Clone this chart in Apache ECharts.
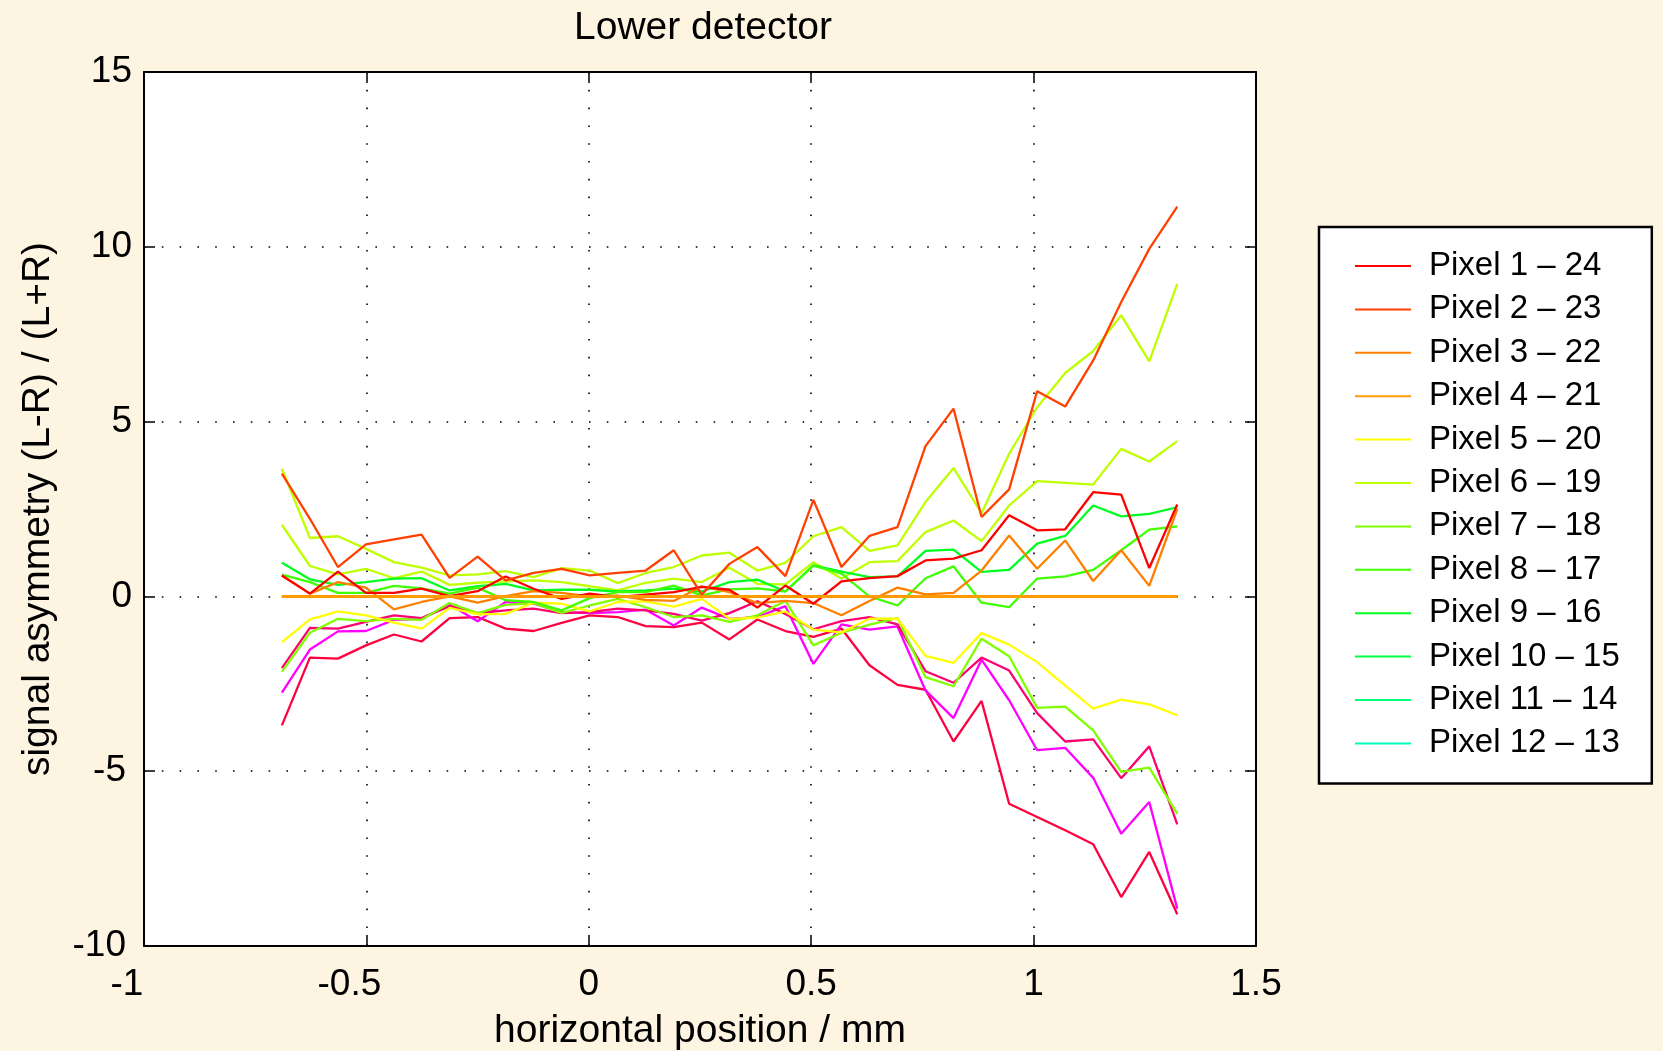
<!DOCTYPE html>
<html>
<head>
<meta charset="utf-8">
<script src="https://cdn.jsdelivr.net/npm/echarts@6/dist/echarts.min.js"></script>
<style>
  html, body { margin: 0; padding: 0; background: #fdf4e2; }
  #chart { width: 1663px; height: 1051px; }
</style>
</head>
<body>
<div id="chart"></div>
<script>
// Horizontal scan positions (mm)
const xPositions = [-0.690, -0.627, -0.564, -0.501, -0.438, -0.376, -0.313, -0.250, -0.187, -0.124,
                    -0.061, 0.002, 0.065, 0.128, 0.191, 0.254, 0.316, 0.379, 0.442, 0.505,
                    0.568, 0.631, 0.694, 0.757, 0.820, 0.883, 0.945, 1.008, 1.071, 1.134,
                    1.197, 1.260, 1.323];

// Signal asymmetry per pixel pair, one value per scan position
const pixel01_24 = [0.60, 0.08, 0.71, 0.10, 0.10, 0.22, 0.01, 0.15, 0.57, 0.22,
                    -0.07, 0.08, -0.02, 0.05, 0.12, 0.27, 0.19, -0.32, 0.31, -0.21,
                    0.43, 0.52, 0.58, 1.03, 1.08, 1.32, 2.32, 1.89, 1.92, 2.98,
                    2.91, 0.81, 2.63];
const pixel02_23 = [3.51, 2.22, 0.84, 1.49, 1.63, 1.77, 0.53, 1.14, 0.46, 0.67,
                    0.79, 0.60, 0.67, 0.74, 1.32, 0.05, 0.93, 1.41, 0.58, 2.76,
                    0.84, 1.73, 1.98, 4.30, 5.37, 2.27, 3.06, 5.87, 5.43, 6.75,
                    8.42, 9.94, 11.15];
const pixel03_22 = [0.60, 0.08, 0.41, 0.25, -0.37, -0.16, 0.00, -0.18, 0.01, 0.15,
                    0.10, 0.00, 0.02, -0.10, -0.13, 0.29, 0.12, -0.19, -0.13, -0.19,
                    -0.54, -0.13, 0.25, 0.06, 0.10, 0.74, 1.74, 0.79, 1.60, 0.44,
                    1.32, 0.30, 2.50];
const pixel04_21 = [0, 0, 0, 0, 0, 0, 0, 0, 0, 0,
                    0, 0, 0, 0, 0, 0, 0, 0, 0, 0,
                    0, 0, 0, 0, 0, 0, 0, 0, 0, 0,
                    0, 0, 0];
const pixel05_20 = [-1.31, -0.66, -0.43, -0.54, -0.75, -0.92, -0.33, -0.51, -0.50, -0.18,
                    -0.21, -0.43, -0.16, -0.14, -0.29, -0.07, -0.64, -0.61, -0.43, -0.95,
                    -1.03, -0.64, -0.64, -1.70, -1.90, -1.05, -1.38, -1.88, -2.55, -3.21,
                    -2.95, -3.09, -3.40];
const pixel06_19 = [3.65, 1.67, 1.72, 1.36, 0.98, 0.82, 0.60, 0.63, 0.72, 0.55,
                    0.81, 0.74, 0.38, 0.67, 0.84, 1.17, 1.25, 0.74, 0.96, 1.72,
                    1.98, 1.30, 1.46, 2.70, 3.67, 2.38, 4.08, 5.41, 6.39, 7.02,
                    8.04, 6.72, 8.94];
const pixel07_18 = [-2.16, -1.04, -0.64, -0.71, -0.64, -0.67, -0.19, -0.48, -0.24, -0.19,
                    -0.47, -0.26, -0.07, -0.31, -0.59, -0.54, -0.73, -0.54, -0.13, -1.40,
                    -1.04, -0.81, -0.62, -2.31, -2.57, -1.21, -1.71, -3.19, -3.15, -3.83,
                    -5.02, -4.90, -6.22];
const pixel08_17 = [0.62, 0.41, 0.10, 0.10, 0.30, 0.23, 0.08, 0.25, -0.11, -0.16,
                    -0.40, -0.05, 0.12, 0.12, 0.31, 0.03, 0.20, 0.23, 0.14, 0.88,
                    0.65, 0.00, -0.26, 0.52, 0.86, -0.18, -0.31, 0.51, 0.57, 0.76,
                    1.32, 1.91, 2.00];
const pixel09_16 = [0.96, 0.49, 0.33, 0.41, 0.51, 0.52, 0.17, 0.29, 0.36, 0.17,
                    0.19, 0.19, 0.14, 0.17, 0.22, 0.14, 0.41, 0.48, 0.14, 0.89,
                    0.71, 0.55, 0.57, 1.30, 1.34, 0.70, 0.76, 1.51, 1.73, 2.60,
                    2.29, 2.36, 2.55];
const pixel10_15 = [0, 0, 0, 0, 0, 0, 0, 0, 0, 0,
                    0, 0, 0, 0, 0, 0, 0, 0, 0, 0,
                    0, 0, 0, 0, 0, 0, 0, 0, 0, 0,
                    0, 0, 0];
const pixel11_14 = [0, 0, 0, 0, 0, 0, 0, 0, 0, 0,
                    0, 0, 0, 0, 0, 0, 0, 0, 0, 0,
                    0, 0, 0, 0, 0, 0, 0, 0, 0, 0,
                    0, 0, 0];
const pixel12_13 = [0, 0, 0, 0, 0, 0, 0, 0, 0, 0,
                    0, 0, 0, 0, 0, 0, 0, 0, 0, 0,
                    0, 0, 0, 0, 0, 0, 0, 0, 0, 0,
                    0, 0, 0];
// Mirrored pairs (drawn without legend entries)
const pixel19_06 = [2.05, 0.87, 0.63, 0.79, 0.52, 0.71, 0.33, 0.39, 0.43, 0.46,
                    0.41, 0.29, 0.17, 0.39, 0.51, 0.41, 0.82, 0.36, 0.34, 0.98,
                    0.51, 0.98, 1.01, 1.84, 2.17, 1.58, 2.60, 3.30, 3.25, 3.20,
                    4.22, 3.86, 4.44];
const pixel22_03 = [-2.05, -0.90, -0.92, -0.73, -0.54, -0.62, -0.28, -0.48, -0.40, -0.35,
                    -0.48, -0.45, -0.35, -0.40, -0.50, -0.69, -0.48, -0.14, -0.50, -0.94,
                    -0.71, -0.59, -0.80, -2.14, -2.47, -1.75, -2.12, -3.34, -4.15, -4.09,
                    -5.20, -4.29, -6.52];
const pixel21_04 = [-2.75, -1.52, -1.00, -0.99, -0.67, -0.64, -0.23, -0.71, -0.16, -0.21,
                    -0.45, -0.48, -0.45, -0.38, -0.83, -0.32, -0.64, -0.59, -0.28, -1.93,
                    -0.80, -0.95, -0.86, -2.69, -3.48, -1.81, -2.97, -4.40, -4.33, -5.19,
                    -6.79, -5.88, -8.93];
const pixel23_02 = [-3.69, -1.75, -1.78, -1.40, -1.09, -1.29, -0.62, -0.59, -0.92, -0.99,
                    -0.76, -0.54, -0.59, -0.85, -0.88, -0.75, -1.23, -0.66, -0.99, -1.16,
                    -0.92, -1.97, -2.53, -2.67, -4.15, -2.99, -5.93, -6.31, -6.69, -7.09,
                    -8.60, -7.31, -9.09];

// Axis ticks and their labels
const xTickValues = [-1, -0.5, 0, 0.5, 1, 1.5];
const xTickLabels = ['-1', '-0.5', '0', '0.5', '1', '1.5'];
const yTickValues = [-10, -5, 0, 5, 10, 15];
const yTickLabels = ['-10', '-5', '0', '5', '10', '15'];

const FONT = '"Liberation Sans", Arial, Helvetica, sans-serif';

// name, values, colour, line width; drawing order = array order
const lines = [
  ['Pixel 12 \u2013 13', pixel12_13, '#00ffbf', 2],
  ['Pixel 11 \u2013 14', pixel11_14, '#00ff80', 2],
  ['Pixel 10 \u2013 15', pixel10_15, '#00ff40', 2],
  ['Pixel 23 \u2013 2',  pixel23_02, '#ff0040', 2.3],
  ['Pixel 21 \u2013 4',  pixel21_04, '#ff00ff', 2.3],
  ['Pixel 22 \u2013 3',  pixel22_03, '#ff0070', 2.3],
  ['Pixel 7 \u2013 18',  pixel07_18, '#80ff00', 2.3],
  ['Pixel 5 \u2013 20',  pixel05_20, '#ffff00', 2.3],
  ['Pixel 19 \u2013 6',  pixel19_06, '#bfff00', 2.3],
  ['Pixel 9 \u2013 16',  pixel09_16, '#00ff20', 2.3],
  ['Pixel 8 \u2013 17',  pixel08_17, '#40ff00', 2.3],
  ['Pixel 3 \u2013 22',  pixel03_22, '#ff8000', 2.3],
  ['Pixel 1 \u2013 24',  pixel01_24, '#ff0000', 2.3],
  ['Pixel 6 \u2013 19',  pixel06_19, '#bfff00', 2.3],
  ['Pixel 2 \u2013 23',  pixel02_23, '#ff4000', 2.3],
  ['Pixel 4 \u2013 21',  pixel04_21, '#ff9a00', 3]
];

const legendOrder = ['Pixel 1 \u2013 24', 'Pixel 2 \u2013 23', 'Pixel 3 \u2013 22', 'Pixel 4 \u2013 21',
                     'Pixel 5 \u2013 20', 'Pixel 6 \u2013 19', 'Pixel 7 \u2013 18', 'Pixel 8 \u2013 17',
                     'Pixel 9 \u2013 16', 'Pixel 10 \u2013 15', 'Pixel 11 \u2013 14', 'Pixel 12 \u2013 13'];

function tickLabel(values, labels, v) {
  const i = values.findIndex(t => Math.abs(t - v) < 1e-9);
  return i < 0 ? '' : labels[i];
}

const series = lines.map(([name, ys, colour, width]) => ({
  name: name,
  type: 'line',
  xAxisIndex: 0,
  yAxisIndex: 0,
  symbol: 'none',
  color: colour,
  lineStyle: { color: colour, width: width },
  emphasis: { disabled: true },
  data: xPositions.map((x, i) => [x, ys[i]])
}));

const dotted = { color: '#000', width: 1.6, type: [1.6, 16.2] };
const frameLine = { show: true, onZero: false, lineStyle: { color: '#000', width: 2 } };
const innerTick = { show: true, inside: true, length: 11, lineStyle: { color: '#000', width: 1.5 } };

const option = {
  backgroundColor: '#fdf4e2',
  animation: false,
  textStyle: { fontFamily: FONT },
  title: {
    text: 'Lower detector',
    left: 698,
    top: 4,
    textAlign: 'center',
    textStyle: { fontFamily: FONT, fontSize: 39, fontWeight: 'normal', color: '#000' }
  },
  grid: {
    left: 144, top: 72, width: 1112, height: 874,
    outerBoundsMode: 'none',
    containLabel: false,
    show: true, backgroundColor: '#ffffff', borderWidth: 0
  },
  legend: {
    orient: 'vertical',
    left: 1319,
    top: 227,
    data: legendOrder,
    selectedMode: false,
    icon: 'rect',
    itemWidth: 56,
    itemHeight: 2,
    itemGap: 10.4,
    padding: [22.5, 32, 23.5, 36],
    backgroundColor: '#ffffff',
    borderColor: '#000',
    borderWidth: 2.5,
    borderRadius: 0,
    textStyle: { fontFamily: FONT, fontSize: 33, lineHeight: 33, color: '#000', padding: [0, 0, 0, 13] }
  },
  xAxis: [
    {
      type: 'value', min: -1, max: 1.5, interval: 0.5, position: 'bottom',
      axisLine: frameLine, axisTick: innerTick,
      splitLine: { show: true, lineStyle: dotted },
      axisLabel: {
        margin: 20, color: '#000', fontSize: 37, fontFamily: FONT,
        formatter: v => {
          const t = tickLabel(xTickValues, xTickLabels, v);
          return v < 0 ? '{neg|' + t + '}' : '{pos|' + t + '}';
        },
        rich: {
          neg: { fontSize: 37, fontFamily: FONT, color: '#000', padding: [0, 34, 0, 0] },
          pos: { fontSize: 37, fontFamily: FONT, color: '#000' }
        }
      },
      name: 'horizontal position / mm',
      nameLocation: 'middle',
      nameGap: 66,
      nameTextStyle: { fontFamily: FONT, fontSize: 39, color: '#000' }
    },
    {
      type: 'value', min: -1, max: 1.5, interval: 0.5, position: 'top',
      axisLine: frameLine, axisTick: innerTick,
      splitLine: { show: false }, axisLabel: { show: false }
    }
  ],
  yAxis: [
    {
      type: 'value', min: -10, max: 15, interval: 5, position: 'left',
      axisLine: frameLine, axisTick: innerTick,
      splitLine: { show: true, lineStyle: dotted },
      axisLabel: {
        margin: 12, color: '#000', fontSize: 37, fontFamily: FONT,
        formatter: v => {
          const t = tickLabel(yTickValues, yTickLabels, v);
          return v < 0 ? '{neg|' + t + '}' : '{pos|' + t + '}';
        },
        rich: {
          neg: { fontSize: 37, fontFamily: FONT, color: '#000', padding: [0, 6, 0, 0] },
          pos: { fontSize: 37, fontFamily: FONT, color: '#000' }
        }
      },
      name: 'signal asymmetry (L-R) / (L+R)',
      nameLocation: 'middle',
      nameGap: 86,
      nameTextStyle: { fontFamily: FONT, fontSize: 39, color: '#000' }
    },
    {
      type: 'value', min: -10, max: 15, interval: 5, position: 'right',
      axisLine: frameLine, axisTick: innerTick,
      splitLine: { show: false }, axisLabel: { show: false }
    }
  ],
  series: series
};

const chart = echarts.init(document.getElementById('chart'), null, { renderer: 'canvas' });
chart.setOption(option);
</script>
</body>
</html>
